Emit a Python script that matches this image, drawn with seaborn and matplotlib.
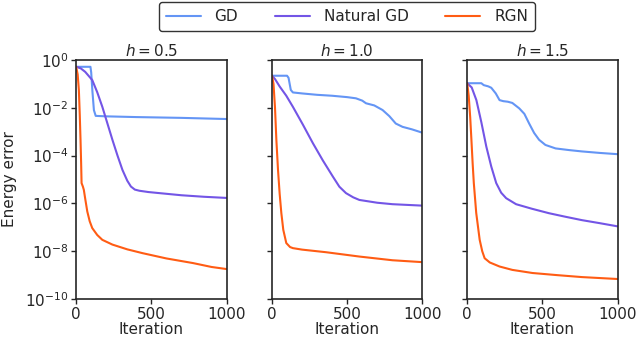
import matplotlib
matplotlib.use("Agg")
import matplotlib.pyplot as plt
import numpy as np
import pandas as pd
import seaborn as sns

# values (energy error vs iteration)
H_VALUES = ["0.5", "1.0", "1.5"]
METHODS = ["GD", "Natural GD", "RGN"]

# h = 0.5
gd_x_05 = [0, 95, 100, 108, 118, 130, 200, 400, 700, 1000]
gd_y_05 = [0.52, 0.52, 0.3, 5e-2, 8e-3, 4.6e-3, 4.4e-3, 4.1e-3, 3.8e-3, 3.4e-3]
ngd_x_05 = [0, 30, 60, 107, 140, 174, 208, 241, 275, 308, 340, 364, 390, 420, 480, 554, 700, 850, 1000]
ngd_y_05 = [0.52, 0.45, 0.32, 0.145, 4.5e-2, 1.1e-2, 2.2e-3, 4.6e-4, 1.0e-4, 2.5e-5,
            8.9e-6, 5.1e-6, 3.8e-6, 3.4e-6, 3.0e-6, 2.7e-6, 2.2e-6, 1.9e-6, 1.7e-6]
rgn_x_05 = [0, 10, 18, 24, 29, 33, 36, 45, 51, 60, 74, 90, 107, 140, 174, 241, 340, 442, 600, 777, 900, 1000]
rgn_y_05 = [0.52, 0.25, 5.6e-2, 5e-3, 4.6e-4, 5e-5, 7.1e-6, 5e-6, 3.7e-6, 1.6e-6, 4.6e-7,
            1.8e-7, 9.3e-8, 4.8e-8, 3.0e-8, 1.9e-8, 1.2e-8, 8.3e-9, 5e-9, 3.2e-9, 2.2e-9, 1.8e-9]

# h = 1.0
gd_x_10 = [0, 100, 110, 125, 139, 200, 300, 400, 500, 558, 600, 625, 680, 735, 780, 823, 868, 930, 1000]
gd_y_10 = [0.22, 0.22, 0.18, 5.6e-2, 4.4e-2, 4.0e-2, 3.5e-2, 3.2e-2, 2.8e-2, 2.5e-2,
           2.0e-2, 1.55e-2, 1.26e-2, 8.1e-3, 4.5e-3, 2.2e-3, 1.6e-3, 1.26e-3, 9.1e-4]
ngd_x_10 = [0, 20, 51, 95, 139, 205, 272, 338, 404, 448, 492, 540, 581, 700, 801, 1000]
ngd_y_10 = [0.22, 0.16, 7.8e-2, 3.2e-2, 1.1e-2, 2.0e-3, 3.3e-4, 6.3e-5, 1.35e-5, 5e-6,
            2.7e-6, 1.8e-6, 1.4e-6, 1.07e-6, 9.3e-7, 8.1e-7]
rgn_x_10 = [0, 10, 20, 29, 40, 51, 62, 75, 95, 120, 139, 200, 360, 581, 801, 1000]
rgn_y_10 = [0.22, 0.1, 1e-2, 4.6e-4, 2.5e-5, 2.5e-6, 4e-7, 7.9e-8, 2.2e-8, 1.5e-8,
            1.35e-8, 1.17e-8, 9.1e-9, 6.0e-9, 4.2e-9, 3.5e-9]

# h = 1.5
gd_x_15 = [0, 94, 110, 140, 160, 190, 215, 240, 270, 300, 346, 380, 412, 445, 478, 520, 588, 680, 763, 880, 1000]
gd_y_15 = [0.107, 0.107, 8.9e-2, 7.9e-2, 6.9e-2, 4.0e-2, 2.1e-2, 1.9e-2, 1.8e-2, 1.6e-2, 9.5e-3,
           5.6e-3, 2.2e-3, 8.9e-4, 4.6e-4, 2.8e-4, 2.0e-4, 1.7e-4, 1.5e-4, 1.3e-4, 1.15e-4]
ngd_x_15 = [0, 30, 61, 94, 127, 160, 193, 226, 259, 325, 430, 544, 650, 763, 880, 1000]
ngd_y_15 = [0.107, 7.1e-2, 2.1e-2, 2.5e-3, 2.4e-4, 3.5e-5, 7.1e-6, 2.8e-6, 1.66e-6, 9.3e-7,
            6.0e-7, 3.9e-7, 2.8e-7, 2.0e-7, 1.5e-7, 1.1e-7]
rgn_x_15 = [0, 10, 20, 28, 36, 44, 60, 83, 100, 116, 150, 215, 300, 434, 600, 763, 1000]
rgn_y_15 = [0.107, 3.2e-2, 4e-3, 4.6e-4, 5e-5, 7.1e-6, 4e-7, 3e-8, 1e-8, 5.1e-9, 3.4e-9,
            2.3e-9, 1.66e-9, 1.23e-9, 1e-9, 8.3e-10, 6.9e-10]

series = {
    "0.5": [(gd_x_05, gd_y_05), (ngd_x_05, ngd_y_05), (rgn_x_05, rgn_y_05)],
    "1.0": [(gd_x_10, gd_y_10), (ngd_x_10, ngd_y_10), (rgn_x_10, rgn_y_10)],
    "1.5": [(gd_x_15, gd_y_15), (ngd_x_15, ngd_y_15), (rgn_x_15, rgn_y_15)],
}

rows = []
for h in H_VALUES:
    for name, (xs, ys) in zip(METHODS, series[h]):
        for x, y in zip(xs, ys):
            rows.append({"h": h, "method": name, "Iteration": x, "err": y})
df = pd.DataFrame(rows)

palette = {"GD": "#6495f5", "Natural GD": "#7355e6", "RGN": "#ff5c14"}

sns.set_style("ticks")
plt.rcParams["font.family"] = ["DejaVu Sans"]
plt.rcParams["font.size"] = 11

fig = plt.figure(figsize=(6.4, 3.41), dpi=100)
lefts = [0.119, 0.425, 0.730]
axes = [fig.add_axes([l, 0.123, 0.235, 0.701]) for l in lefts]

for i, (ax, h) in enumerate(zip(axes, H_VALUES)):
    sub = df[df["h"] == h]
    sns.lineplot(data=sub, x="Iteration", y="err", hue="method", hue_order=METHODS,
                 palette=palette, linewidth=1.5, ax=ax, legend=False, sort=False)
    ax.set_yscale("log")
    ax.set_ylim(1e-10, 1e0)
    ax.set_xlim(0, 1000)
    ax.set_yticks([1e0, 1e-2, 1e-4, 1e-6, 1e-8, 1e-10])
    ax.minorticks_off()
    ax.set_xticks([0, 500, 1000])
    ax.set_title(f"$h = {h}$", fontsize=11, pad=3)
    ax.set_xlabel("Iteration", fontsize=11, labelpad=0)
    ax.tick_params(labelsize=11, length=3.5, width=1, pad=2)
    for s in ax.spines.values():
        s.set_linewidth(1.2)
        s.set_visible(True)
    if i == 0:
        ax.set_ylabel("Energy error", fontsize=11, labelpad=6)
    else:
        ax.set_ylabel("")
        ax.set_yticklabels([])

handles = [plt.Line2D([], [], color=palette[m], lw=1.5) for m in METHODS]
fig.legend(handles, METHODS, loc="upper center", bbox_to_anchor=(0.542, 1.0), ncol=3,
           fontsize=11, frameon=True, edgecolor="black", fancybox=True,
           handlelength=2.3, columnspacing=2.4, borderpad=0.45, handletextpad=0.9,
           borderaxespad=0.15)

fig.savefig("out.png", dpi=100)
